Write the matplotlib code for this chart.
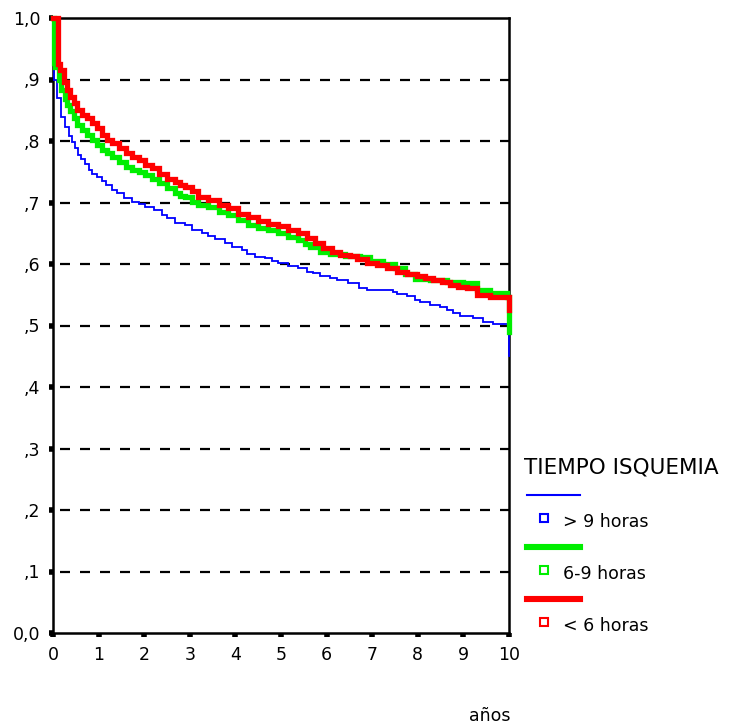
"""Curvas de supervivencia por tiempo de isquemia."""

import matplotlib

matplotlib.use("Agg")
import matplotlib.pyplot as plt
from matplotlib.lines import Line2D

W, H = 734, 728

# > 9 horas
t_mas9 = [0, 0.02, 0.088, 0.18, 0.27, 0.344, 0.417, 0.476, 0.548, 0.62, 0.708,
          0.783, 0.855, 0.965, 1.075, 1.16, 1.29, 1.40, 1.55, 1.73, 1.88, 2.02,
          2.21, 2.39, 2.50, 2.68, 2.89, 3.04, 3.26, 3.41, 3.55, 3.77, 3.92, 4.14,
          4.25, 4.43, 4.65, 4.80, 4.94, 5.16, 5.38, 5.56, 5.71, 5.86, 6.07, 6.22,
          6.48, 6.70, 6.88, 7.46, 7.54, 7.76, 7.94, 8.05, 8.27, 8.49, 8.64, 8.77,
          8.93, 9.21, 9.43, 9.65, 9.98, 10.0]
s_mas9 = [1.0, 0.90, 0.870, 0.839, 0.822, 0.808, 0.799, 0.788, 0.777, 0.770,
          0.763, 0.753, 0.746, 0.741, 0.735, 0.728, 0.721, 0.715, 0.708, 0.701,
          0.698, 0.693, 0.687, 0.680, 0.674, 0.667, 0.663, 0.655, 0.650, 0.646,
          0.640, 0.634, 0.627, 0.623, 0.616, 0.612, 0.609, 0.605, 0.601, 0.596,
          0.593, 0.587, 0.585, 0.581, 0.578, 0.574, 0.569, 0.561, 0.558, 0.555,
          0.552, 0.548, 0.541, 0.538, 0.533, 0.530, 0.525, 0.520, 0.515, 0.512,
          0.506, 0.502, 0.498, 0.45]

# 6-9 horas
t_6a9 = [0, 0.02, 0.05, 0.125, 0.18, 0.257, 0.307, 0.38, 0.454, 0.526, 0.636,
         0.746, 0.855, 0.965, 1.075, 1.18, 1.29, 1.44, 1.59, 1.73, 1.88, 2.02,
         2.17, 2.32, 2.50, 2.68, 2.79, 2.89, 3.04, 3.19, 3.41, 3.63, 3.84, 4.06,
         4.28, 4.50, 4.72, 4.94, 5.16, 5.37, 5.53, 5.64, 5.86, 6.07, 6.4, 6.73,
         6.95, 7.24, 7.50, 7.72, 7.94, 8.27, 8.64, 8.99, 9.3, 9.58, 9.96, 10.0]
s_6a9 = [1.0, 0.927, 0.921, 0.899, 0.883, 0.869, 0.859, 0.848, 0.837, 0.826,
         0.818, 0.810, 0.802, 0.793, 0.786, 0.780, 0.774, 0.766, 0.758, 0.753,
         0.750, 0.745, 0.739, 0.731, 0.723, 0.715, 0.711, 0.709, 0.701, 0.696,
         0.692, 0.685, 0.680, 0.672, 0.663, 0.658, 0.655, 0.650, 0.644, 0.639,
         0.633, 0.628, 0.620, 0.617, 0.613, 0.612, 0.605, 0.600, 0.594, 0.584,
         0.575, 0.574, 0.571, 0.569, 0.558, 0.553, 0.546, 0.49]

# < 6 horas
t_men6 = [0, 0.1, 0.16, 0.235, 0.307, 0.38, 0.454, 0.526, 0.636, 0.746, 0.855,
          0.965, 1.075, 1.18, 1.29, 1.44, 1.59, 1.73, 1.88, 2.02, 2.17, 2.32,
          2.50, 2.68, 2.79, 2.89, 3.04, 3.19, 3.41, 3.63, 3.84, 4.06, 4.28, 4.50,
          4.72, 4.94, 5.16, 5.37, 5.56, 5.75, 5.93, 6.11, 6.29, 6.51, 6.66, 6.88,
          7.10, 7.32, 7.54, 7.76, 7.98, 8.16, 8.33, 8.53, 8.71, 8.88, 9.08, 9.3,
          9.58, 9.96, 10.0]
s_men6 = [1.0, 0.925, 0.915, 0.896, 0.883, 0.872, 0.861, 0.850, 0.842, 0.837,
          0.829, 0.821, 0.810, 0.802, 0.796, 0.788, 0.780, 0.774, 0.769, 0.761,
          0.756, 0.747, 0.739, 0.734, 0.728, 0.726, 0.718, 0.709, 0.704, 0.696,
          0.691, 0.682, 0.677, 0.670, 0.665, 0.661, 0.655, 0.650, 0.642, 0.634,
          0.626, 0.620, 0.615, 0.613, 0.608, 0.602, 0.598, 0.593, 0.587, 0.584,
          0.580, 0.577, 0.574, 0.570, 0.566, 0.563, 0.561, 0.55, 0.546, 0.546,
          0.525]

y_ticks = [0.0, 0.1, 0.2, 0.3, 0.4, 0.5, 0.6, 0.7, 0.8, 0.9, 1.0]
y_labels = ["0,0", ",1", ",2", ",3", ",4", ",5", ",6", ",7", ",8", ",9", "1,0"]
x_ticks = list(range(11))

groups = ["> 9 horas", "6-9 horas", "< 6 horas"]
colors = ["#0000ff", "#00ee00", "#ff0000"]
widths = [1.3, 3.8, 3.8]

plt.rcParams["font.family"] = ["DejaVu Sans"]

fig = plt.figure(figsize=(W / 100, H / 100), dpi=100)
ax = fig.add_axes([53 / W, 1 - 633 / H, (509 - 53) / W, (633 - 18) / H])

for y in y_ticks[1:-1]:
    ax.plot([0.15, 10], [y, y], color="black", linewidth=1.6,
            dashes=(4.5, 4.5), zorder=1)

series = [(t_mas9, s_mas9), (t_6a9, s_6a9), (t_men6, s_men6)]
for (t, s), c, lw in zip(series, colors, widths):
    ax.plot(t, s, drawstyle="steps-post", color=c, linewidth=lw,
            solid_joinstyle="miter", clip_on=False, zorder=3)

ax.set_xlim(0, 10)
ax.set_ylim(0, 1)
ax.set_xticks(x_ticks)
ax.set_yticks(y_ticks)
ax.set_yticklabels(y_labels)
for sp in ax.spines.values():
    sp.set_linewidth(1.8)
ax.tick_params(direction="out", length=3, width=4, labelsize=12.5, pad=6)

fig.text(490 / W, 1 - 716 / H, "años", fontsize=12.5, ha="center", va="center")

# leyenda manual
fig.text(524 / W, 1 - 467 / H, "TIEMPO ISQUEMIA", fontsize=15.5,
         ha="left", va="center")
line_y = [495, 547, 599]
for i, (g, c, lw) in enumerate(zip(groups, colors, widths)):
    ly = 1 - line_y[i] / H
    fig.add_artist(Line2D([527 / W, 580 / W], [ly, ly], color=c,
                          linewidth=lw + (0.6 if i else 0.2),
                          transform=fig.transFigure))
    my = 1 - (line_y[i] + 23) / H
    fig.add_artist(Line2D([544 / W], [my], marker="s", markersize=6,
                          markerfacecolor="white", markeredgecolor=c,
                          markeredgewidth=1.5, linestyle="none",
                          transform=fig.transFigure))
    fig.text(563 / W, 1 - (line_y[i] + 27) / H, g, fontsize=12.5,
             ha="left", va="center")

fig.savefig("out.png", dpi=100)
